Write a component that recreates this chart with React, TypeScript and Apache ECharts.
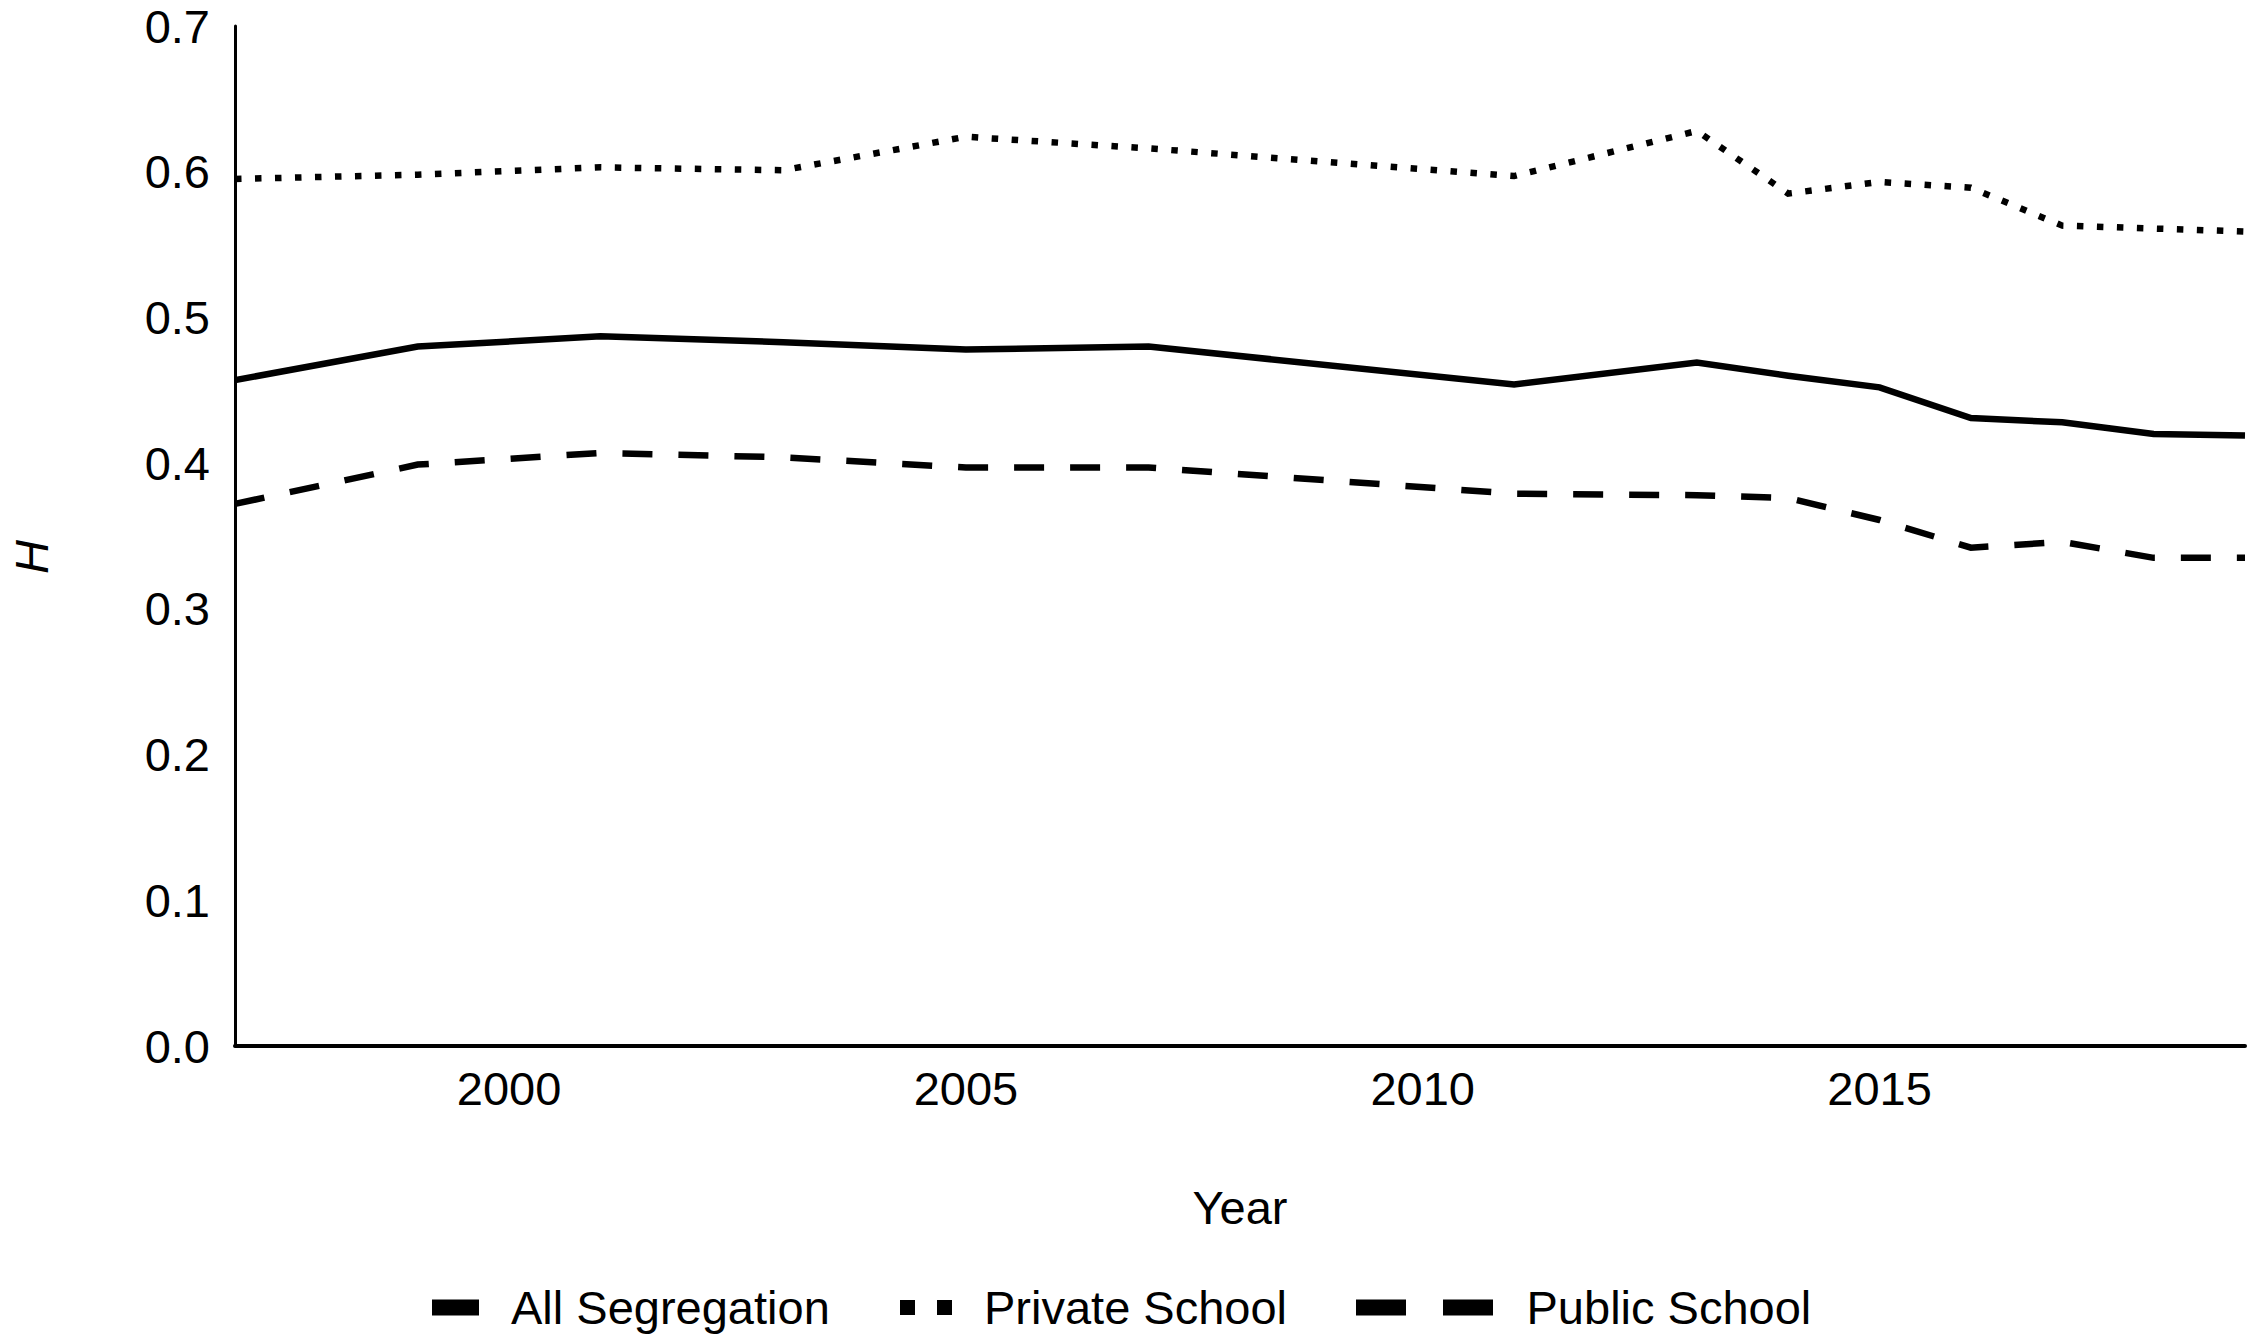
import React, { useEffect, useRef } from "react";
import * as echarts from "echarts";

const years = [1997, 1999, 2001, 2003, 2005, 2007, 2011, 2013, 2014, 2015, 2016, 2017, 2018, 2019];
const allSegregation = [0.457, 0.480, 0.487, 0.483, 0.478, 0.480, 0.454, 0.469, 0.460, 0.452, 0.431, 0.428, 0.420, 0.419];
const privateSchool = [0.595, 0.598, 0.603, 0.601, 0.624, 0.616, 0.597, 0.628, 0.585, 0.593, 0.589, 0.563, 0.561, 0.559];
const publicSchool = [0.372, 0.399, 0.407, 0.404, 0.397, 0.397, 0.379, 0.378, 0.376, 0.361, 0.342, 0.346, 0.335, 0.335];
const xTickLabels = [2000, 2005, 2010, 2015];
const seriesNames = ["All Segregation", "Private School", "Public School"];

const FONT = "'Liberation Sans', Arial, Helvetica, sans-serif";

function pairs(values: number[]) {
  return years.map((y, i) => [y, values[i]]);
}

export default function App() {
  const ref = useRef<HTMLDivElement>(null);

  useEffect(() => {
    if (!ref.current) return;
    const chart = echarts.init(ref.current, undefined, { renderer: "svg" });

    const legendCommon = {
      orient: "horizontal",
      top: 1284,
      padding: 0,
      selectedMode: false,
      itemStyle: { color: "#000", borderWidth: 0 },
      textStyle: { fontSize: 47, color: "#000", fontFamily: FONT, padding: [0, 0, 14, 27] },
    };

    const lineBase = (name: string, values: number[], type: any) => ({
      type: "line",
      name,
      data: pairs(values),
      symbol: "none",
      showSymbol: false,
      color: "#000",
      itemStyle: { color: "#000" },
      lineStyle: { color: "#000", width: 6.5, type, cap: "butt", join: "miter" },
      emphasis: { disabled: true },
    });

    chart.setOption({
      animation: false,
      backgroundColor: "#fff",
      textStyle: { fontFamily: FONT, color: "#000" },
      grid: { left: 226, right: 5, top: 26, bottom: 292, containLabel: false },
      xAxis: {
        type: "value",
        min: 1997,
        max: 2019,
        name: "Year",
        nameLocation: "middle",
        nameGap: 138,
        nameTextStyle: { fontSize: 47, color: "#000", fontFamily: FONT },
        axisLine: { show: true, onZero: false, lineStyle: { color: "#000", width: 4 } },
        axisTick: { show: false },
        splitLine: { show: false },
        axisLabel: {
          customValues: xTickLabels,
          fontSize: 47,
          color: "#000",
          margin: 19,
          fontFamily: FONT,
          formatter: (v: number) => String(v),
        },
      },
      yAxis: {
        type: "value",
        min: 0,
        max: 0.7,
        interval: 0.1,
        name: "H",
        nameLocation: "middle",
        nameGap: 180,
        nameTextStyle: { fontSize: 47, color: "#000", fontStyle: "italic", fontFamily: FONT, padding: [0, 42, 0, 0] },
        axisLine: { show: true, lineStyle: { color: "#000", width: 3 } },
        axisTick: { show: false },
        splitLine: { show: false },
        axisLabel: {
          fontSize: 47,
          color: "#000",
          margin: 25,
          fontFamily: FONT,
          formatter: (v: number) => v.toFixed(1),
        },
      },
      legend: [
        {
          ...legendCommon,
          left: 432,
          itemWidth: 47,
          itemHeight: 16,
          data: [{ name: seriesNames[0], icon: "rect" }],
        },
        {
          ...legendCommon,
          left: 900,
          itemWidth: 52,
          itemHeight: 15,
          data: [{ name: seriesNames[1], icon: "path://M0,0H15V15H0Z M37,0H52V15H37Z" }],
        },
        {
          ...legendCommon,
          left: 1356,
          itemWidth: 140,
          itemHeight: 16,
          data: [{ name: seriesNames[2], icon: "path://M0,0H50V16H0Z M87,0H137V16H87Z" }],
        },
      ],
      series: [
        lineBase(seriesNames[0], allSegregation, "solid"),
        lineBase(seriesNames[1], privateSchool, [6.5, 13.5]),
        lineBase(seriesNames[2], publicSchool, [30, 26]),
      ],
    });

    return () => chart.dispose();
  }, []);

  return (
    <div
      ref={ref}
      style={{ position: "fixed", left: 0, top: 0, width: 2250, height: 1338, background: "#fff" }}
    />
  );
}
